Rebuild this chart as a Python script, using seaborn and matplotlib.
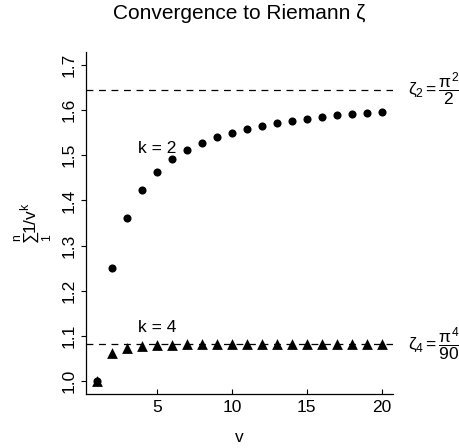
import numpy as np
import pandas as pd
import matplotlib
matplotlib.use('Agg')
import matplotlib.pyplot as plt
import seaborn as sns

# partial sums of 1/v^k
v = list(range(1, 21))
sum_k2 = [1.0000, 1.2500, 1.3611, 1.4236, 1.4636, 1.4914, 1.5118, 1.5274, 1.5398, 1.5498,
          1.5580, 1.5650, 1.5709, 1.5760, 1.5804, 1.5843, 1.5878, 1.5909, 1.5937, 1.5962]
sum_k4 = [1.0000, 1.0625, 1.0748, 1.0788, 1.0804, 1.0811, 1.0816, 1.0818, 1.0820, 1.0820,
          1.0821, 1.0821, 1.0822, 1.0822, 1.0822, 1.0822, 1.0822, 1.0822, 1.0823, 1.0823]
zeta2 = 1.6449
zeta4 = 1.0823
yticks = [1.0, 1.1, 1.2, 1.3, 1.4, 1.5, 1.6, 1.7]
xticks = [5, 10, 15, 20]

sns.set_theme(style="ticks")
plt.rcParams['font.family'] = ['Liberation Sans', 'DejaVu Sans']
plt.rcParams['mathtext.fontset'] = 'custom'
plt.rcParams['mathtext.rm'] = 'Liberation Sans'
plt.rcParams['mathtext.it'] = 'Liberation Sans'
plt.rcParams['mathtext.bf'] = 'Liberation Sans'
for key in ['text.color', 'axes.labelcolor', 'xtick.color', 'ytick.color']:
    plt.rcParams[key] = 'black'

df = pd.DataFrame({
    'v': v * 2,
    'total': sum_k2 + sum_k4,
    'k': ['2'] * 20 + ['4'] * 20,
})

fs = 12.5
fig = plt.figure(figsize=(4.59, 4.48), dpi=100)
ax = fig.add_axes([0.1874, 0.1205, 0.6688, 0.7634])

ax.axhline(zeta2, color='black', ls=(0, (5.5, 4.5)), lw=0.9)
ax.axhline(zeta4, color='black', ls=(0, (5.5, 4.5)), lw=0.9)

sns.scatterplot(data=df[df.k == '2'], x='v', y='total', marker='o', s=34,
                color='black', linewidth=0, ax=ax, legend=False, zorder=3)
sns.scatterplot(data=df[df.k == '4'], x='v', y='total', marker='^', s=60,
                color='black', linewidth=0, ax=ax, legend=False, zorder=4)

ax.set_xlim(0.24, 20.76)
ax.set_ylim(0.972, 1.728)
ax.set_xticks(xticks)
ax.set_yticks(yticks)
ax.set_yticklabels([f'{t:.1f}' for t in yticks], rotation=90, va='center')
ax.tick_params(axis='x', direction='in', length=3.6, width=0.8, labelsize=fs, pad=4)
ax.tick_params(axis='y', direction='out', length=3.6, width=0.8, labelsize=fs, pad=3)

for side in ['top', 'right']:
    ax.spines[side].set_visible(False)
for side in ['left', 'bottom']:
    ax.spines[side].set_linewidth(0.9)
    ax.spines[side].set_color('black')

ax.set_xlabel('v', fontsize=fs, labelpad=11)
ax.set_ylabel(r'$\sum_1^n 1/v^k$', fontsize=fs, labelpad=5)
ax.set_title('Convergence to Riemann ζ', fontsize=15, pad=24)

ax.text(5, 1.515, 'k = 2', ha='center', va='center', fontsize=fs)
ax.text(5, 1.119, 'k = 4', ha='center', va='center', fontsize=fs)
ax.text(21.73, zeta2, r'$\zeta_2 = \dfrac{\pi^2}{2}$', ha='left', va='center',
        fontsize=fs, clip_on=False)
ax.text(21.73, zeta4, r'$\zeta_4 = \dfrac{\pi^4}{90}$', ha='left', va='center',
        fontsize=fs, clip_on=False)

fig.savefig('out.png', dpi=100)
